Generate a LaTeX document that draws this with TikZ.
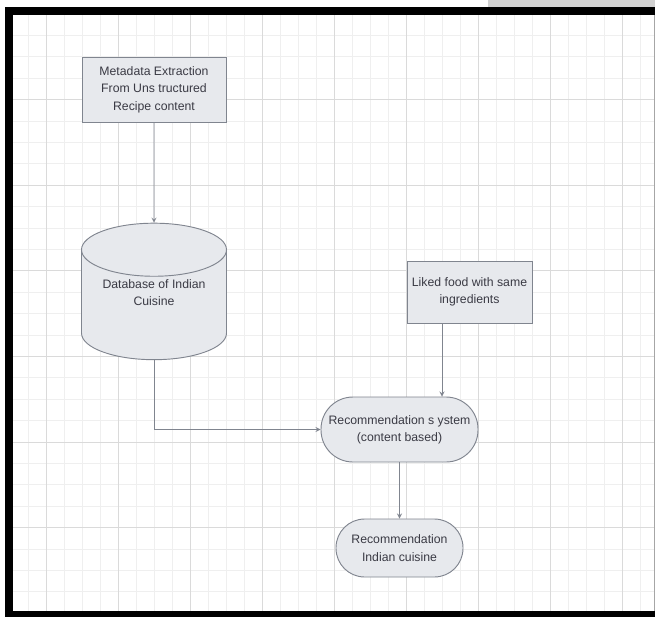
\documentclass[tikz,border=0pt]{standalone}
\usepackage{fontspec}
\setmainfont{Liberation Sans}
\usetikzlibrary{calc,positioning,shapes.geometric}
\tikzset{>=stealth}
\definecolor{boxfill}{HTML}{E7E9ED}
\definecolor{boxline}{HTML}{80858F}
\definecolor{gridminor}{HTML}{EFEFEF}
\definecolor{gridmajor}{HTML}{DADADA}
\definecolor{txt}{HTML}{3A3A44}

\begin{document}
\begin{tikzpicture}[x=0.75pt,y=-0.75pt,
  box/.style={draw=boxline,fill=boxfill,line width=0.7pt,text=txt,align=center,
    font=\fontsize{9.2}{13}\selectfont,inner sep=2pt},
  pill/.style={box,rounded corners=#1},
  link/.style={draw=boxline,line width=0.7pt,->}]
  \useasboundingbox (0,0) rectangle (655,617);
  \fill[white] (0,0) rectangle (655,617);
  \fill[black!18] (488,0) rectangle (655,7);
  % grid
  \foreach \k in {0,...,35}
    \draw[gridminor,line width=0.7pt] ({10+18*\k},15) -- ({10+18*\k},611);
  \foreach \k in {0,...,28}
    \draw[gridminor,line width=0.7pt] (13,{14+21.4*\k}) -- (655,{14+21.4*\k});
  \foreach \k in {0,...,8}
    \draw[gridmajor,line width=0.7pt] ({46+72*\k},15) -- ({46+72*\k},611);
  \foreach \k in {1,...,6}
    \draw[gridmajor,line width=0.7pt] (13,{14+85.6*\k}) -- (655,{14+85.6*\k});
  % frame
  \fill[black] (5,7) rectangle (655,15);
  \fill[black] (5,7) rectangle (13,617);
  \fill[black] (5,611) rectangle (655,617);
  \draw[black!35] (654,15) -- (654,611);

  \node[box,minimum width=108pt,minimum height=48.75pt] (meta) at (154,89.5)
    {Metadata Extraction\\From Uns tructured\\Recipe content};
  \node[box,cylinder,shape border rotate=90,aspect=0.49,
    minimum width=108.75pt,minimum height=100pt] (db) at (154,308.5)
    {Database of Indian\\Cuisine\\[11pt]\mbox{}};
  \node[box,minimum width=93.75pt,minimum height=46.5pt] (liked) at (469.5,292)
    {Liked food with same\\ingredients};
  \node[pill=24pt,minimum width=117.75pt,minimum height=48.75pt] (rec) at (399.5,429.5)
    {Recommendation s ystem\\(content based)};
  \node[pill=21.5pt,minimum width=95.25pt,minimum height=43.5pt] (out) at (399.5,548)
    {Recommendation\\Indian cuisine};

  \coordinate (lk) at ($(liked.south)+(-27.5,0)$);
  \draw[link] (meta) -- (db);
  \draw[link] (db.south) |- (rec.west);
  \draw[link] (lk) -- (lk |- rec.north);
  \draw[link] (rec) -- (out);
\end{tikzpicture}
\end{document}
